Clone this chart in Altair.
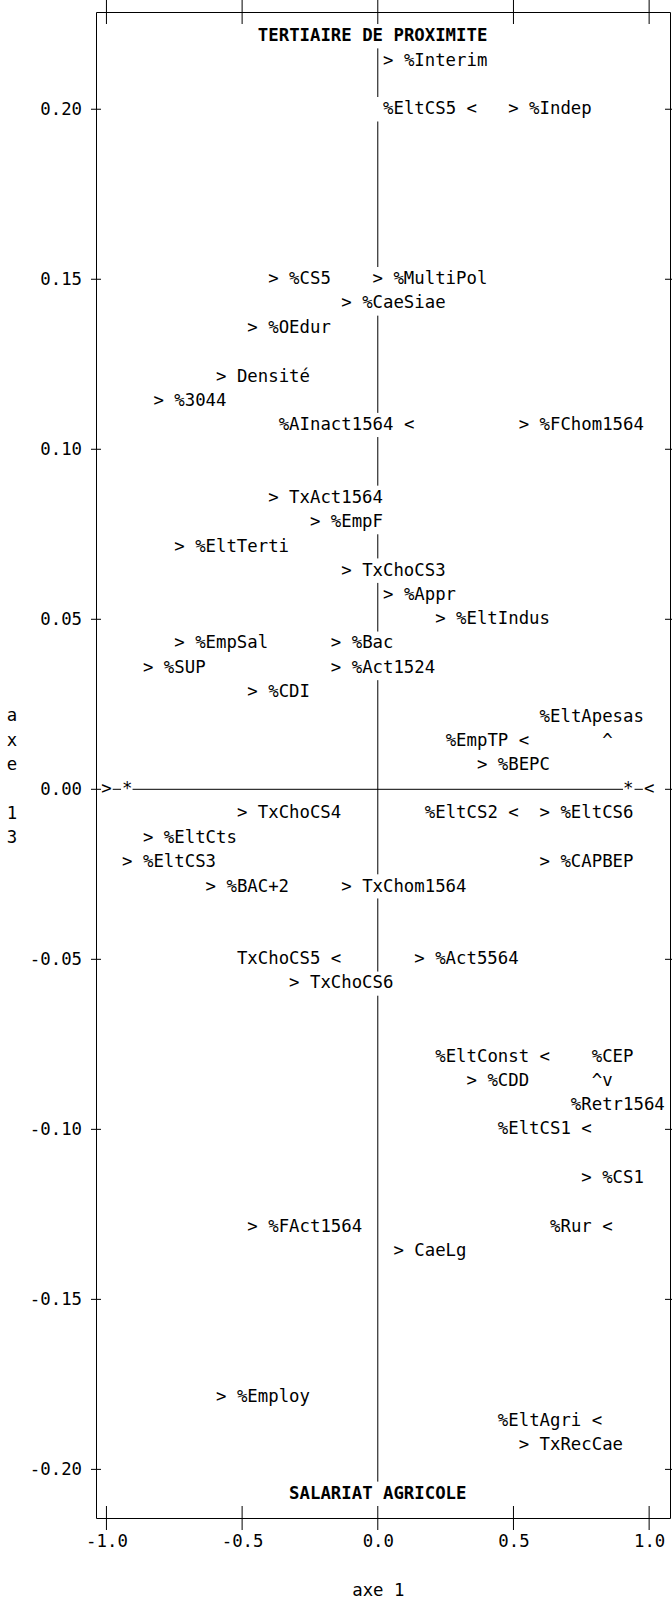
import altair as alt
import pandas as pd

MONO = "DejaVu Sans Mono"
FS = 17.33          # one character cell is ~10.44 px wide
W, H = 574, 1506    # plot frame
ROW_PX = 24.29      # height of one character row
ZERO_ROW = 777.3    # pixel row of axe 13 = 0 inside the frame

# ---- variables labelled to the right of their ">" marker ----
right_names = ["%Interim", "%Indep", "%CS5", "%MultiPol", "%CaeSiae", "%OEdur",
               "Densité", "%3044", "%FChom1564", "TxAct1564", "%EmpF", "%EltTerti",
               "TxChoCS3", "%Appr", "%EltIndus", "%EmpSal", "%Bac", "%SUP",
               "%Act1524", "%CDI", "%BEPC", "TxChoCS4", "%EltCS6", "%EltCts",
               "%EltCS3", "%CAPBEP", "%BAC+2", "TxChom1564", "%Act5564", "TxChoCS6",
               "%CDD", "%CS1", "%FAct1564", "CaeLg", "%Employ", "TxRecCae"]
right_x = [0.0385, 0.5000, -0.3846, 0.0000, -0.1154, -0.4615,
           -0.5769, -0.8077, 0.5385, -0.3846, -0.2308, -0.7308,
           -0.1154, 0.0385, 0.2308, -0.7308, -0.1538, -0.8462,
           -0.1538, -0.4615, 0.3846, -0.5000, 0.6154, -0.8462,
           -0.9231, 0.6154, -0.6154, -0.1154, 0.1538, -0.3077,
           0.3462, 0.7692, -0.4615, 0.0769, -0.5769, 0.5385]
right_y = [0.2143, 0.2000, 0.1500, 0.1500, 0.1429, 0.1357,
           0.1214, 0.1143, 0.1071, 0.0857, 0.0786, 0.0714,
           0.0643, 0.0571, 0.0500, 0.0429, 0.0429, 0.0357,
           0.0357, 0.0286, 0.0071, -0.0071, -0.0071, -0.0143,
           -0.0214, -0.0214, -0.0286, -0.0286, -0.0500, -0.0571,
           -0.0857, -0.1143, -0.1286, -0.1357, -0.1786, -0.1929]

# ---- variables labelled to the left of their "<" marker ----
left_names = ["%EltCS5", "%AInact1564", "%EmpTP", "%EltCS2", "TxChoCS5",
              "%EltConst", "%EltCS1", "%Rur", "%EltAgri"]
left_x = [0.3462, 0.1154, 0.5385, 0.5000, -0.1538,
          0.6154, 0.7692, 0.8462, 0.8077]
left_y = [0.2000, 0.1071, 0.0143, -0.0071, -0.0500,
          -0.0786, -0.1000, -0.1286, -0.1857]

# ---- variables labelled above (^) or below (v) their marker ----
vert_names = ["%EltApesas", "%CEP", "%Retr1564"]
vert_symbol = ["^", "^", "v"]
vert_x = [0.8462, 0.8077, 0.8462]
vert_y = [0.0143, -0.0857, -0.0857]
vert_label_x = [0.7885, 0.8654, 0.8846]
vert_label_y = [0.0214, -0.0786, -0.0929]

# ---- poles of axe 13 ----
pole_names = ["TERTIAIRE DE PROXIMITE", "SALARIAT AGRICOLE"]
pole_x = [-0.0192, 0.0000]
pole_y = [0.2214, -0.2071]

# ---- horizontal reference line (axe 13 = 0) ----
href_x1 = [-0.9769, -0.9038, 0.9462]
href_x2 = [-0.9462, 0.9038, 0.9769]
href_symbols = [">", "*", "*", "<"]
href_sym_x = [-1.0000, -0.9231, 0.9231, 1.0000]

# ---- vertical reference line (axe 1 = 0), interrupted by labels ----
vref_top = [0.2179, 0.1964, 0.1393, 0.1036, 0.0750, 0.0607, 0.0321, -0.0321, -0.0607]
vref_bottom = [0.2036, 0.1536, 0.1107, 0.0893, 0.0679, 0.0464, -0.0250, -0.0536, -0.2036]

x_ticks = [-1.0, -0.5, 0.0, 0.5, 1.0]
y_ticks = [-0.20, -0.15, -0.10, -0.05, 0.00, 0.05, 0.10, 0.15, 0.20]

# vertical title "axe 13", one character per row, with the 0.00 row left empty
y_title_upper = "a\nx\ne"
y_title_lower = "1\n3"

xs = alt.Scale(domain=[-1.0385, 1.0769], nice=False, zero=False)
ys = alt.Scale(domain=[-0.2143, 0.2286], nice=False, zero=False)

# the same axis definition is given to every layer so that they merge into one
x_axis = alt.Axis(
    values=x_ticks, labelExpr="replace(format(datum.value, '.1f'), '\u2212', '-')",
    ticks=False, tickSize=0, domain=False, grid=False,
    labelFont=MONO, labelFontSize=FS, labelColor="black", labelPadding=23.7,
    labelBaseline="middle", labelFlush=False, labelOverlap=False,
    title="axe 1", titleFont=MONO, titleFontSize=FS, titleFontWeight="normal",
    titleColor="black", titleX=281.8, titleY=72, titleAlign="center",
    titleBaseline="middle")

y_axis = alt.Axis(
    values=y_ticks, labelExpr="replace(format(datum.value, '.2f'), '\u2212', '-')",
    ticks=False, tickSize=0, domain=False, grid=False,
    labelFont=MONO, labelFontSize=FS, labelColor="black", labelPadding=14.5,
    labelBaseline="middle", labelFlush=False, labelOverlap=False, title=None)


def X(field):
    return alt.X(field, scale=xs, axis=x_axis)


def Y(field):
    return alt.Y(field, scale=ys, axis=y_axis)


# tick marks crossing the frame on all four sides
xt = pd.DataFrame({"v": x_ticks})
yt = pd.DataFrame({"v": y_ticks})
rule = dict(color="black", strokeWidth=1)

xt_bottom = alt.Chart(xt).mark_rule(**rule).encode(
    x=X("v:Q"), y=alt.value(H - 12), y2=alt.value(H + 12))
xt_top = alt.Chart(xt).mark_rule(**rule).encode(
    x=X("v:Q"), y=alt.value(-12), y2=alt.value(12))
yt_left = alt.Chart(yt).mark_rule(**rule).encode(
    y=Y("v:Q"), x=alt.value(-5), x2=alt.value(5))
yt_right = alt.Chart(yt).mark_rule(**rule).encode(
    y=Y("v:Q"), x=alt.value(W - 5), x2=alt.value(W + 5))

vref = alt.Chart(pd.DataFrame({"x": [0.0] * len(vref_top), "top": vref_top,
                               "bottom": vref_bottom})).mark_rule(**rule).encode(
    x=X("x:Q"), y=Y("top:Q"), y2="bottom:Q")

href = alt.Chart(pd.DataFrame({"x1": href_x1, "x2": href_x2,
                               "y": [0.0] * len(href_x1)})).mark_rule(**rule).encode(
    x=X("x1:Q"), x2="x2:Q", y=Y("y:Q"))

txt = dict(font=MONO, fontSize=FS, color="black", baseline="middle")

href_sym = alt.Chart(pd.DataFrame({"x": href_sym_x, "y": [0.0] * len(href_sym_x),
                                   "s": href_symbols})).mark_text(
    align="center", **txt).encode(x=X("x:Q"), y=Y("y:Q"), text="s:N")

markers = pd.DataFrame({
    "x": right_x + left_x + vert_x,
    "y": right_y + left_y + vert_y,
    "s": [">"] * len(right_x) + ["<"] * len(left_x) + vert_symbol,
})
marker_layer = alt.Chart(markers).mark_text(align="center", **txt).encode(
    x=X("x:Q"), y=Y("y:Q"), text="s:N")

right_layer = alt.Chart(pd.DataFrame({"x": right_x, "y": right_y, "name": right_names})
                        ).mark_text(align="left", dx=15.65, **txt).encode(
    x=X("x:Q"), y=Y("y:Q"), text="name:N")

left_layer = alt.Chart(pd.DataFrame({"x": left_x, "y": left_y, "name": left_names})
                       ).mark_text(align="right", dx=-15.65, **txt).encode(
    x=X("x:Q"), y=Y("y:Q"), text="name:N")

vert_layer = alt.Chart(pd.DataFrame({"x": vert_label_x, "y": vert_label_y,
                                     "name": vert_names})).mark_text(
    align="center", **txt).encode(x=X("x:Q"), y=Y("y:Q"), text="name:N")

pole_layer = alt.Chart(pd.DataFrame({"x": pole_x, "y": pole_y, "name": pole_names})
                       ).mark_text(align="center", fontWeight="bold", **txt).encode(
    x=X("x:Q"), y=Y("y:Q"), text="name:N")

# y-axis title, stacked vertically left of the tick labels
title_style = dict(align="center", lineBreak="\n", lineHeight=ROW_PX, **txt)
y_title_top = alt.Chart(pd.DataFrame({"t": [y_title_upper]})).mark_text(
    **title_style).encode(x=alt.value(-84), y=alt.value(ZERO_ROW - 3 * ROW_PX),
                          text="t:N")
y_title_bottom = alt.Chart(pd.DataFrame({"t": [y_title_lower]})).mark_text(
    **title_style).encode(x=alt.value(-84), y=alt.value(ZERO_ROW + ROW_PX),
                          text="t:N")

chart = alt.layer(
    xt_bottom, yt_left, xt_top, yt_right, vref, href, href_sym,
    marker_layer, right_layer, left_layer, vert_layer, pole_layer,
    y_title_top, y_title_bottom,
).properties(
    width=W, height=H,
    padding={"left": 96, "top": 12, "right": 2, "bottom": 82},
    autosize=alt.AutoSizeParams(type="none"),
    background="white",
).configure_view(stroke="black", strokeWidth=1)

chart.save("out.html", embed_options={"renderer": "svg", "actions": False})
